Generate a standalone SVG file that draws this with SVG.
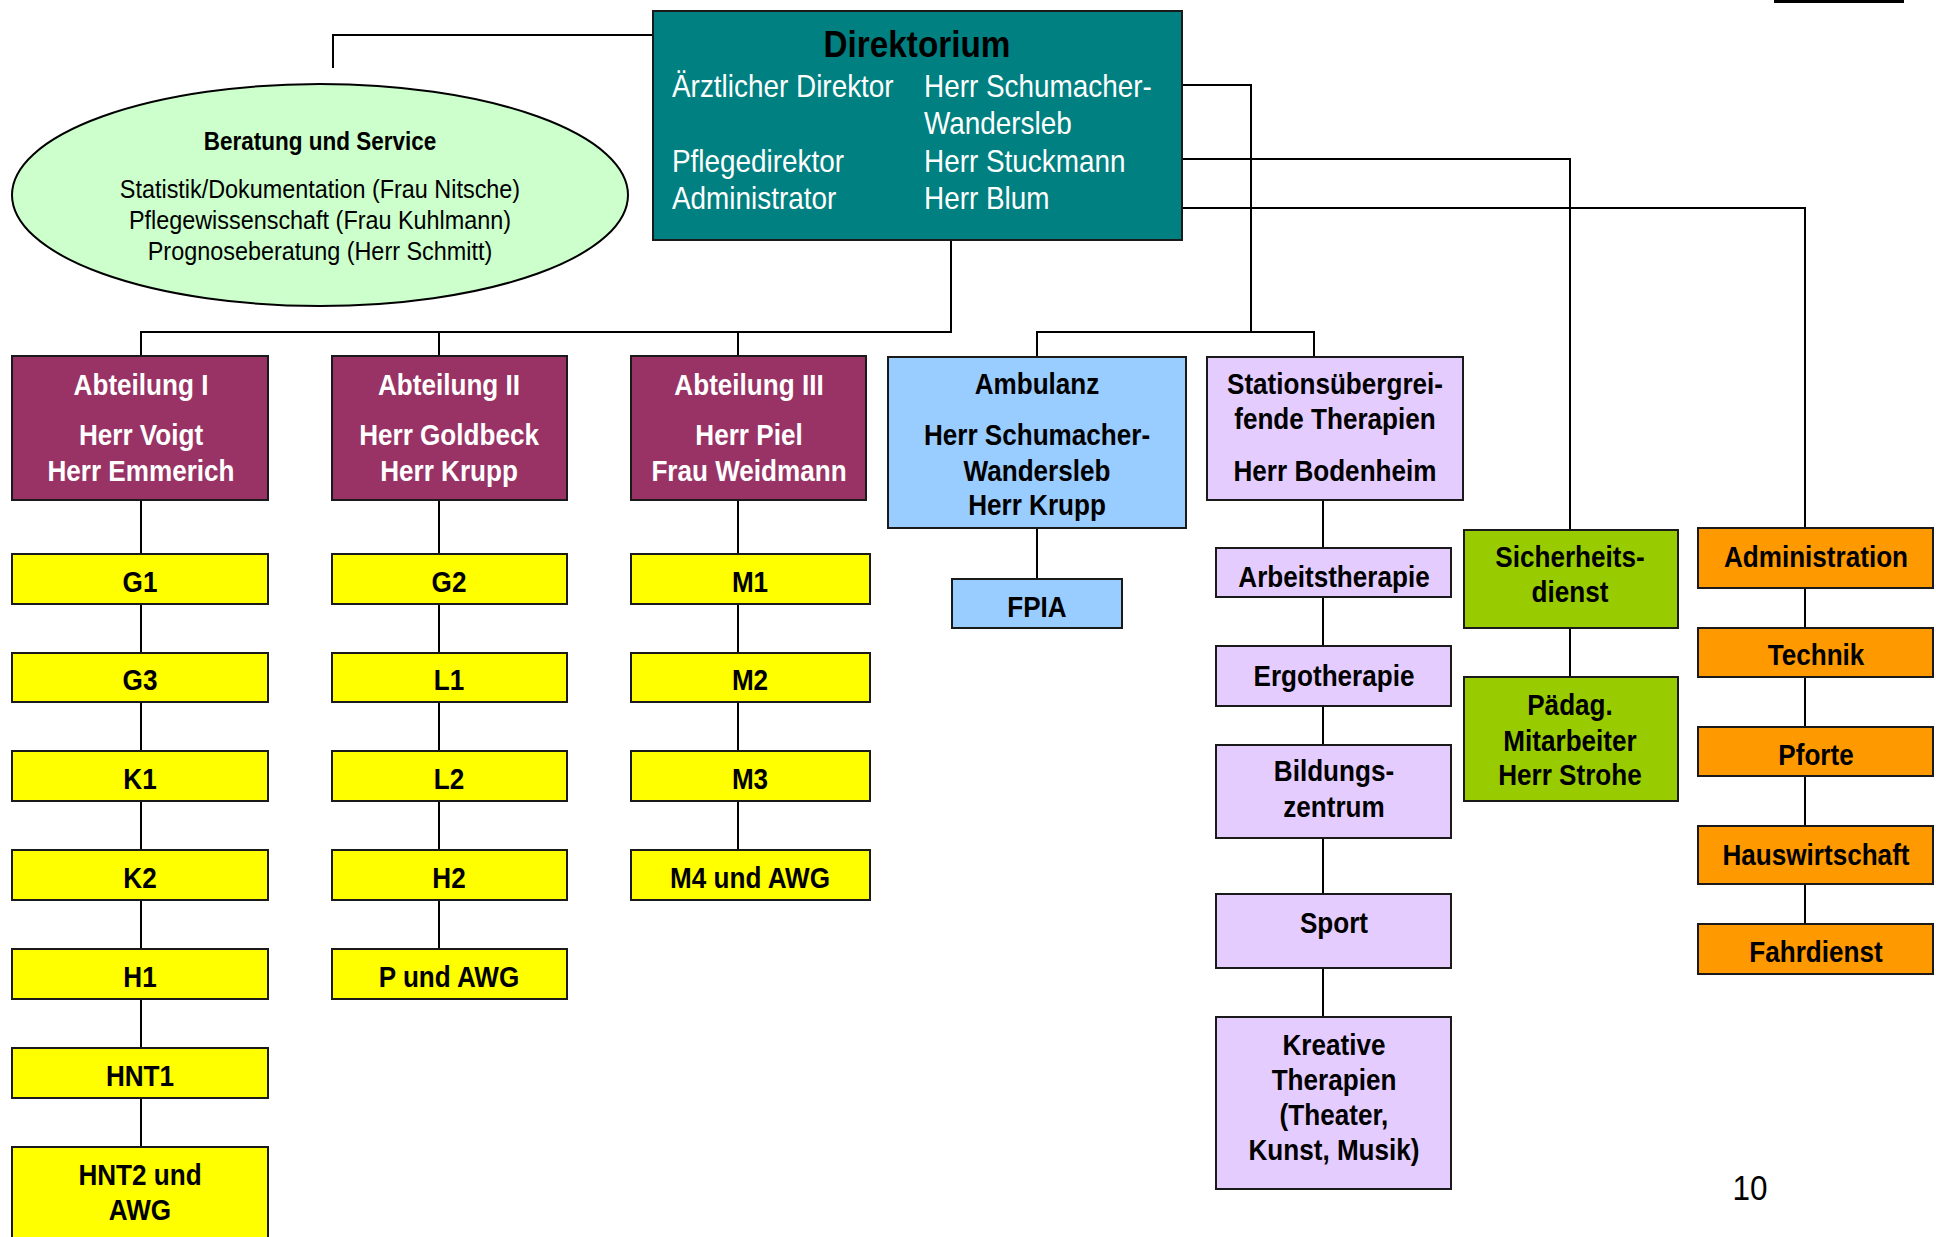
<svg xmlns="http://www.w3.org/2000/svg" width="1936" height="1237" viewBox="0 0 1936 1237">
<style>
.t{font-family:"Liberation Sans Narrow","Arial Narrow","Liberation Sans",sans-serif;text-anchor:middle;font-weight:bold;fill:#000;transform-box:fill-box;transform-origin:center;transform:scaleX(0.9)}
.w{fill:#fff}
.n{font-weight:normal}
.s{text-anchor:start;transform-origin:left center}
.box{stroke:#1a1a1a;stroke-width:2}
.abt{fill:#993366}
.gelb{fill:#ffff00}
.blau{fill:#99ccff}
.lila{fill:#e5ccff}
.gruen{fill:#99cc00}
.orange{fill:#ff9900}
.con{stroke:#000;stroke-width:2;fill:none}
</style>
<rect x="0" y="0" width="1936" height="1237" fill="#fff"/>
<rect x="1774" y="0" width="130" height="3" fill="#000"/>
<g id="connectors" class="con">
<path d="M333 68V35H653"/>
<path d="M951 240V332H141V356M439 332V356M738 332V356"/>
<path d="M1182 85H1251V332M1037 357V332H1314V357"/>
<path d="M1182 159H1570V530"/>
<path d="M1182 208H1805V528"/>
<path d="M141 500V554M141 604V653M141 702V751M141 801V850M141 900V949M141 999V1048M141 1098V1147"/>
<path d="M439 500V554M439 604V653M439 702V751M439 801V850M439 900V949"/>
<path d="M738 500V554M738 604V653M738 702V751M738 801V850"/>
<path d="M1037 528V579"/>
<path d="M1323 500V548M1323 597V646M1323 706V745M1323 838V894M1323 968V1017"/>
<path d="M1570 628V677"/>
<path d="M1805 588V628M1805 677V727M1805 776V826M1805 884V924"/>
</g>
<g id="direktorium">
<rect class="box" x="653" y="11" width="529" height="229" fill="#008080"/>
<text class="t" x="917" y="57" font-size="37">Direktorium</text>
<text class="t w n s" x="672" y="97" font-size="31">Ärztlicher Direktor</text>
<text class="t w n s" x="924" y="97" font-size="31">Herr Schumacher-</text>
<text class="t w n s" x="924" y="134" font-size="31">Wandersleb</text>
<text class="t w n s" x="672" y="172" font-size="31">Pflegedirektor</text>
<text class="t w n s" x="924" y="172" font-size="31">Herr Stuckmann</text>
<text class="t w n s" x="672" y="209" font-size="31">Administrator</text>
<text class="t w n s" x="924" y="209" font-size="31">Herr Blum</text>
</g>
<g id="beratung">
<ellipse cx="320" cy="195" rx="308" ry="111" fill="#ccffcc" stroke="#000" stroke-width="2"/>
<text class="t" x="320" y="150" font-size="25">Beratung und Service</text>
<text class="t n" x="320" y="198" font-size="26">Statistik/Dokumentation (Frau Nitsche)</text>
<text class="t n" x="320" y="229" font-size="26">Pflegewissenschaft (Frau Kuhlmann)</text>
<text class="t n" x="320" y="260" font-size="26">Prognoseberatung (Herr Schmitt)</text>
</g>
<g id="abt1">
<rect class="box abt" x="12" y="356" width="256" height="144"/>
<text class="t w" x="141" y="395" font-size="29">Abteilung I</text>
<text class="t w" x="141" y="445" font-size="29">Herr Voigt</text>
<text class="t w" x="141" y="481" font-size="29">Herr Emmerich</text>
</g>
<g id="abt2">
<rect class="box abt" x="332" y="356" width="235" height="144"/>
<text class="t w" x="449" y="395" font-size="29">Abteilung II</text>
<text class="t w" x="449" y="445" font-size="29">Herr Goldbeck</text>
<text class="t w" x="449" y="481" font-size="29">Herr Krupp</text>
</g>
<g id="abt3">
<rect class="box abt" x="631" y="356" width="235" height="144"/>
<text class="t w" x="749" y="395" font-size="29">Abteilung III</text>
<text class="t w" x="749" y="445" font-size="29">Herr Piel</text>
<text class="t w" x="749" y="481" font-size="29">Frau Weidmann</text>
</g>
<g id="g1"><rect class="box gelb" x="12" y="554" width="256" height="50"/><text class="t" x="140" y="592" font-size="29">G1</text></g>
<g id="g3"><rect class="box gelb" x="12" y="653" width="256" height="49"/><text class="t" x="140" y="690" font-size="29">G3</text></g>
<g id="k1"><rect class="box gelb" x="12" y="751" width="256" height="50"/><text class="t" x="140" y="789" font-size="29">K1</text></g>
<g id="k2"><rect class="box gelb" x="12" y="850" width="256" height="50"/><text class="t" x="140" y="888" font-size="29">K2</text></g>
<g id="h1"><rect class="box gelb" x="12" y="949" width="256" height="50"/><text class="t" x="140" y="987" font-size="29">H1</text></g>
<g id="hnt1"><rect class="box gelb" x="12" y="1048" width="256" height="50"/><text class="t" x="140" y="1086" font-size="29">HNT1</text></g>
<g id="hnt2"><rect class="box gelb" x="12" y="1147" width="256" height="100"/><text class="t" x="140" y="1185" font-size="29">HNT2 und</text><text class="t" x="140" y="1220" font-size="29">AWG</text></g>
<g id="g2"><rect class="box gelb" x="332" y="554" width="235" height="50"/><text class="t" x="449" y="592" font-size="29">G2</text></g>
<g id="l1"><rect class="box gelb" x="332" y="653" width="235" height="49"/><text class="t" x="449" y="690" font-size="29">L1</text></g>
<g id="l2"><rect class="box gelb" x="332" y="751" width="235" height="50"/><text class="t" x="449" y="789" font-size="29">L2</text></g>
<g id="h2"><rect class="box gelb" x="332" y="850" width="235" height="50"/><text class="t" x="449" y="888" font-size="29">H2</text></g>
<g id="pawg"><rect class="box gelb" x="332" y="949" width="235" height="50"/><text class="t" x="449" y="987" font-size="29">P und AWG</text></g>
<g id="m1"><rect class="box gelb" x="631" y="554" width="239" height="50"/><text class="t" x="750" y="592" font-size="29">M1</text></g>
<g id="m2"><rect class="box gelb" x="631" y="653" width="239" height="49"/><text class="t" x="750" y="690" font-size="29">M2</text></g>
<g id="m3"><rect class="box gelb" x="631" y="751" width="239" height="50"/><text class="t" x="750" y="789" font-size="29">M3</text></g>
<g id="m4awg"><rect class="box gelb" x="631" y="850" width="239" height="50"/><text class="t" x="750" y="888" font-size="29">M4 und AWG</text></g>
<g id="ambulanz">
<rect class="box blau" x="888" y="357" width="298" height="171"/>
<text class="t" x="1037" y="394" font-size="29">Ambulanz</text>
<text class="t" x="1037" y="445" font-size="29">Herr Schumacher-</text>
<text class="t" x="1037" y="481" font-size="29">Wandersleb</text>
<text class="t" x="1037" y="515" font-size="29">Herr Krupp</text>
</g>
<g id="fpia"><rect class="box blau" x="952" y="579" width="170" height="49"/><text class="t" x="1037" y="617" font-size="29">FPIA</text></g>
<g id="stationsuebergreifend">
<rect class="box lila" x="1207" y="357" width="256" height="143"/>
<text class="t" x="1335" y="394" font-size="29">Stationsübergrei-</text>
<text class="t" x="1335" y="429" font-size="29">fende Therapien</text>
<text class="t" x="1335" y="481" font-size="29">Herr Bodenheim</text>
</g>
<g id="arbeitstherapie"><rect class="box lila" x="1216" y="548" width="235" height="49"/><text class="t" x="1334" y="587" font-size="29">Arbeitstherapie</text></g>
<g id="ergotherapie"><rect class="box lila" x="1216" y="646" width="235" height="60"/><text class="t" x="1334" y="686" font-size="29">Ergotherapie</text></g>
<g id="bildungszentrum"><rect class="box lila" x="1216" y="745" width="235" height="93"/><text class="t" x="1334" y="781" font-size="29">Bildungs-</text><text class="t" x="1334" y="817" font-size="29">zentrum</text></g>
<g id="sport"><rect class="box lila" x="1216" y="894" width="235" height="74"/><text class="t" x="1334" y="933" font-size="29">Sport</text></g>
<g id="kreative">
<rect class="box lila" x="1216" y="1017" width="235" height="172"/>
<text class="t" x="1334" y="1055" font-size="29">Kreative</text>
<text class="t" x="1334" y="1090" font-size="29">Therapien</text>
<text class="t" x="1334" y="1125" font-size="29">(Theater,</text>
<text class="t" x="1334" y="1160" font-size="29">Kunst, Musik)</text>
</g>
<g id="sicherheitsdienst"><rect class="box gruen" x="1464" y="530" width="214" height="98"/><text class="t" x="1570" y="567" font-size="29">Sicherheits-</text><text class="t" x="1570" y="602" font-size="29">dienst</text></g>
<g id="paedag"><rect class="box gruen" x="1464" y="677" width="214" height="124"/><text class="t" x="1570" y="715" font-size="29">Pädag.</text><text class="t" x="1570" y="751" font-size="29">Mitarbeiter</text><text class="t" x="1570" y="785" font-size="29">Herr Strohe</text></g>
<g id="administration"><rect class="box orange" x="1698" y="528" width="235" height="60"/><text class="t" x="1816" y="567" font-size="29">Administration</text></g>
<g id="technik"><rect class="box orange" x="1698" y="628" width="235" height="49"/><text class="t" x="1816" y="665" font-size="29">Technik</text></g>
<g id="pforte"><rect class="box orange" x="1698" y="727" width="235" height="49"/><text class="t" x="1816" y="765" font-size="29">Pforte</text></g>
<g id="hauswirtschaft"><rect class="box orange" x="1698" y="826" width="235" height="58"/><text class="t" x="1816" y="865" font-size="29">Hauswirtschaft</text></g>
<g id="fahrdienst"><rect class="box orange" x="1698" y="924" width="235" height="50"/><text class="t" x="1816" y="962" font-size="29">Fahrdienst</text></g>
<text class="t n" x="1750" y="1200" font-size="35">10</text>
</svg>
